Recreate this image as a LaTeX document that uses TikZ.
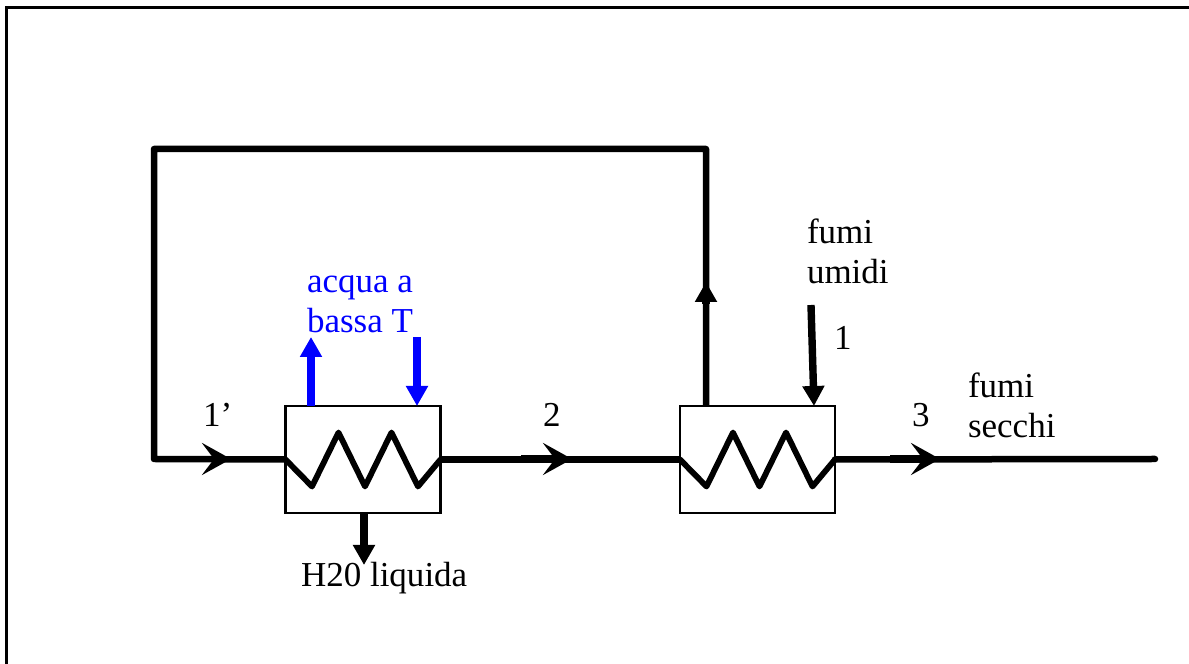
\documentclass[tikz,border=0pt]{standalone}
\usepackage{fontspec}
\setmainfont{Liberation Serif}
\usetikzlibrary{arrows.meta}
\definecolor{coldWater}{RGB}{0,0,255}
\begin{document}
\begin{tikzpicture}
[frameDecorate/.style={-,line width=.03cm,line cap=rect},%
  boxDecorate/.style={shape=rectangle,draw,line width=.027cm,minimum width=1.55cm,minimum height=1.07cm,inner sep=0pt,outer sep=0pt},
  lineDecorate/.style={-,line width=.065cm,line join=round},
  coilDecorate/.style={-,line width=.058cm,line join=round,line cap=round},
  flowDecorate/.style={-{Stealth[length=.29cm,width=.32cm,inset=.12cm]},line width=.078cm},
  pipeDecorate/.style={-{Triangle[length=.2cm,width=.21cm]},line width=.074cm},
  textDecorate/.style={inner sep=0pt,outer sep=0pt,align=left,anchor=north west,font=\fontsize{9.96}{11.4}\selectfont},
  scale=1]
\useasboundingbox (0,0) rectangle (11.89,6.64);
%% exchangers
\node (hxOne) at (3.63,2.045) [boxDecorate] {};
\node (hxTwo) at (7.575,2.045) [boxDecorate] {};
%% free ends and bends
\foreach \nodename/\x/\y in {
  frameLow/.063/0, frameCorner/.063/6.562, frameEnd/11.89/6.562,
  loopLow/1.54/2.05, loopHigh/1.54/5.15, riserHigh/7.06/5.15, riserLow/7.06/2.58,
  outlet/11.55/2.05, inA/2.03/2.05, inB/2.31/2.05, midA/5.21/2.05, midB/5.72/2.05,
  outA/8.9/2.05, outB/9.4/2.05, upA/7.06/3.6, upB/7.06/3.82,
  blueUpA/3.11/2.58, blueUpB/3.11/3.27, blueDownA/4.17/3.27, blueDownB/4.17/2.58,
  dropA/3.64/1.51, dropB/3.64/.99, wetA/8.11/3.59, wetB/8.14/2.58}
{
  \coordinate (\nodename) at (\x,\y);
}
%% frame and pipes
\draw[frameDecorate] (frameLow) -- (frameCorner) -- (frameEnd);
\draw[lineDecorate] (hxOne.west) -- (loopLow) -- (loopHigh) -- (riserHigh) -- (riserLow);
\draw[lineDecorate] (hxOne.east) -- (hxTwo.west);
\draw[lineDecorate,line cap=round] (hxTwo.east) -- (outlet);
%% coils
\foreach \boxname in {hxOne,hxTwo}
{
  \draw[coilDecorate] (\boxname.west) -- ++(.265,-.27) -- ++(.265,.54) -- ++(.265,-.54)
    -- ++(.265,.54) -- ++(.265,-.54) -- (\boxname.east);
}
%% arrows
\path
\foreach \startnode/\endnode in {midA/midB, outA/outB}
{
  (\startnode) edge[flowDecorate] node {} (\endnode)
};
\path (inA) edge[flowDecorate,line width=.065cm] node {} (inB);
\path
\foreach \startnode/\endnode in {upA/upB, dropA/dropB, wetA/wetB}
{
  (\startnode) edge[pipeDecorate] node {} (\endnode)
};
\path
\foreach \startnode/\endnode in {blueUpA/blueUpB, blueDownA/blueDownB}
{
  (\startnode) edge[pipeDecorate,coldWater] node {} (\endnode)
};
%% labels
\foreach \nodename/\x/\y/\caption in {
  labOne/2.03/2.61/{1'}, labTwo/5.43/2.61/{2}, labThree/9.12/2.61/{3}, labWet/8.34/3.38/{1},
  labDrop/3.01/1.02/{H20 liquida}, labWetGas/8.07/4.45/{fumi\\umidi}, labDryGas/9.68/2.91/{fumi\\secchi}}
{
  \node (\nodename) at (\x,\y) [textDecorate] {\caption};
}
\node (labWater) at (3.07,3.88) [textDecorate,text=coldWater] {acqua a\\bassa T};
\end{tikzpicture}
\end{document}
